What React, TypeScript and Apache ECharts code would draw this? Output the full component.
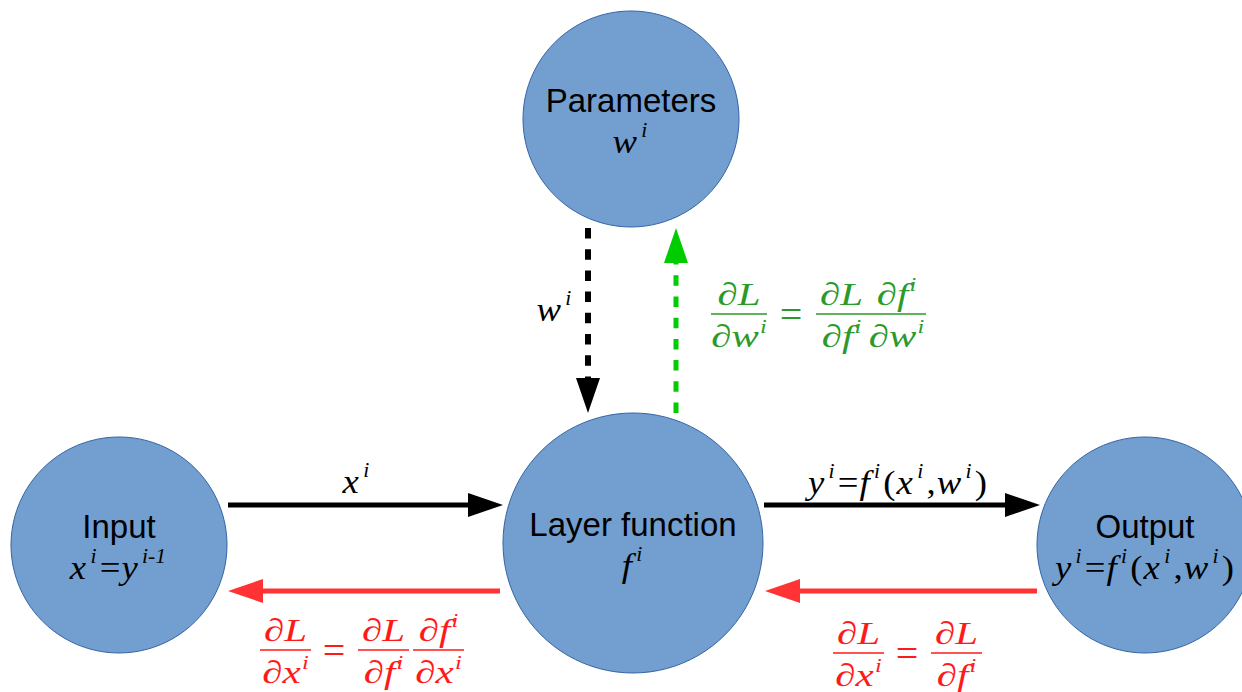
import React, { useEffect, useRef } from "react";
import * as echarts from "echarts";

// ---- nodes ----
const nodeNames = ["Parameters", "Layer function", "Input", "Output"];
const nodeMath = [
  "{m|w}{s|i}",
  "{m|f}{s|i}",
  "{m|x}{s|i}{r|=}{m|y}{s|i-1}",
  "{m|y}{s|i}{r|=}{m|f}{s|i}{r|(}{m|x}{s|i}{r|,}{m|w}{s|i}{r|)}",
];
const nodeCx = [631, 633, 119, 1145];
const nodeCy = [119, 543, 545, 545];
const nodeRadius = [108, 130, 108, 108];

// ---- arrows ----
const arrowFrom = [[228, 505], [500, 591], [764, 505], [1037, 591], [588, 228], [676, 413]];
const arrowTo = [[503, 505], [228, 591], [1040, 505], [765, 591], [588, 413], [676, 228]];
const arrowColor = ["#000000", "#ff3333", "#000000", "#ff3333", "#000000", "#00cc00"];
const arrowDashed = [false, false, false, false, true, true];
const arrowWidth = [5, 5, 5, 5, 6, 5];

// ---- edge labels ----
const edgeLabels = [
  "{m|x}{s|i}",
  "{m|y}{s|i}{r|=}{m|f}{s|i}{r|(}{m|x}{s|i}{r|,}{m|w}{s|i}{r|)}",
  "{m|w}{s|i}",
];
const edgeLabelX = [357, 898, 555];
const edgeLabelY = [481, 482, 309];

// ---- gradient formulas (fractions) ----
const fracNum = ["{m|∂L}", "{m|∂L}", "{m|∂f}{s|i}", "{m|∂L}", "{m|∂L}", "{m|∂f}{s|i}", "{m|∂L}", "{m|∂L}"];
const fracDen = ["{m|∂w}{s|i}", "{m|∂f}{s|i}", "{m|∂w}{s|i}", "{m|∂x}{s|i}", "{m|∂f}{s|i}", "{m|∂x}{s|i}", "{m|∂x}{s|i}", "{m|∂f}{s|i}"];
const fracCx = [739, 841.5, 896.5, 285.5, 383.5, 438.5, 858.5, 956.5];
const fracBarY = [314, 314, 314, 650, 650, 650, 653, 653];
const fracBarW = [56, 51, 59, 51, 51, 51, 51, 51];
const fracColor = ["#2a9a2a", "#2a9a2a", "#2a9a2a", "#ff1a1a", "#ff1a1a", "#ff1a1a", "#ff1a1a", "#ff1a1a"];
const eqX = [791, 334, 907];
const eqY = [314, 650, 653];
const eqColor = ["#2a9a2a", "#ff1a1a", "#ff1a1a"];

const SERIF = '"Liberation Serif", "Times New Roman", serif';
const SANS = '"Liberation Sans", Arial, sans-serif';

function mathRich(size: number, color: string, supPad: number[]) {
  const lh = Math.round(size * 1.2);
  return {
    m: { fontFamily: SERIF, fontStyle: "italic", fontSize: size, lineHeight: lh, fill: color },
    r: { fontFamily: SERIF, fontStyle: "normal", fontSize: size, lineHeight: lh, fill: color, padding: [0, 1, 0, 1] },
    s: {
      fontFamily: SERIF,
      fontStyle: "italic",
      fontSize: Math.round(size * 0.58),
      lineHeight: Math.round(size * 0.72),
      verticalAlign: "top",
      fill: color,
      padding: supPad,
    },
  };
}

export default function App() {
  const ref = useRef<HTMLDivElement>(null);
  useEffect(() => {
    if (!ref.current) return;
    const chart = echarts.init(ref.current, undefined, { renderer: "svg" });

    const nodeData = nodeNames.map((_, i) => [nodeCx[i], nodeCy[i], nodeRadius[i], i]);
    const arrowData = arrowFrom.map((f, i) => [f[0], f[1], arrowTo[i][0], arrowTo[i][1], i]);
    const labelData = edgeLabels.map((_, i) => [edgeLabelX[i], edgeLabelY[i], i]);
    const fracData = fracNum.map((_, i) => [fracCx[i], fracBarY[i], fracBarW[i], i]);
    const eqData = eqX.map((x, i) => [x, eqY[i], i]);

    chart.setOption({
      animation: false,
      backgroundColor: "#ffffff",
      grid: { left: 0, right: 0, top: 0, bottom: 0 },
      xAxis: { type: "value", min: 0, max: 1242, show: false },
      yAxis: { type: "value", min: 0, max: 692, inverse: true, show: false },
      series: [
        {
          type: "custom",
          name: "nodes",
          silent: true,
          data: nodeData,
          encode: { x: 0, y: 1 },
          renderItem: (params: any, api: any) => {
            const i = api.value(3);
            const c = api.coord([api.value(0), api.value(1)]);
            const r = api.size([api.value(2), 0])[0];
            return {
              type: "group",
              children: [
                {
                  type: "circle",
                  shape: { cx: c[0], cy: c[1], r },
                  style: { fill: "#729fcf", stroke: "#3465a4", lineWidth: 1 },
                },
                {
                  type: "text",
                  x: c[0],
                  y: c[1] - 19,
                  style: {
                    text: nodeNames[i],
                    font: `33px ${SANS}`,
                    fill: "#000000",
                    align: "center",
                    verticalAlign: "middle",
                  },
                },
                {
                  type: "text",
                  x: c[0],
                  y: c[1] + 22,
                  scaleX: 1.08,
                  style: {
                    text: nodeMath[i],
                    rich: mathRich(34, "#000000", [0, 2, 0, 4]),
                    align: "center",
                    verticalAlign: "middle",
                  },
                },
              ],
            };
          },
        },
        {
          type: "custom",
          name: "arrows",
          silent: true,
          data: arrowData,
          encode: { x: [0, 2], y: [1, 3] },
          renderItem: (params: any, api: any) => {
            const i = api.value(4);
            const p1 = api.coord([api.value(0), api.value(1)]);
            const p2 = api.coord([api.value(2), api.value(3)]);
            const dx = p2[0] - p1[0];
            const dy = p2[1] - p1[1];
            const len = Math.hypot(dx, dy) || 1;
            const ux = dx / len;
            const uy = dy / len;
            const headL = 35;
            const headW = 12;
            const bx = p2[0] - ux * headL;
            const by = p2[1] - uy * headL;
            const nx = -uy;
            const ny = ux;
            return {
              type: "group",
              children: [
                {
                  type: "line",
                  shape: { x1: p1[0], y1: p1[1], x2: bx + ux, y2: by + uy },
                  style: {
                    stroke: arrowColor[i],
                    lineWidth: arrowWidth[i],
                    lineDash: arrowDashed[i] ? [10.5, 10.7] : null,
                  },
                },
                {
                  type: "polygon",
                  shape: {
                    points: [
                      [p2[0], p2[1]],
                      [bx + nx * headW, by + ny * headW],
                      [bx - nx * headW, by - ny * headW],
                    ],
                  },
                  style: { fill: arrowColor[i] },
                },
              ],
            };
          },
        },
        {
          type: "custom",
          name: "edgeLabels",
          silent: true,
          data: labelData,
          encode: { x: 0, y: 1 },
          renderItem: (params: any, api: any) => {
            const i = api.value(2);
            const c = api.coord([api.value(0), api.value(1)]);
            return {
              type: "text",
              x: c[0],
              y: c[1],
              scaleX: 1.08,
              style: {
                text: edgeLabels[i],
                rich: mathRich(34, "#000000", [0, 2, 0, 4]),
                align: "center",
                verticalAlign: "middle",
              },
            };
          },
        },
        {
          type: "custom",
          name: "fractions",
          silent: true,
          data: fracData,
          encode: { x: 0, y: 1 },
          renderItem: (params: any, api: any) => {
            const i = api.value(3);
            const c = api.coord([api.value(0), api.value(1)]);
            const w = api.size([api.value(2), 0])[0];
            const col = fracColor[i];
            return {
              type: "group",
              children: [
                {
                  type: "line",
                  shape: { x1: c[0] - w / 2, y1: c[1], x2: c[0] + w / 2, y2: c[1] },
                  style: { stroke: col, lineWidth: 1.6 },
                },
                {
                  type: "text",
                  x: c[0],
                  y: c[1] - 20,
                  scaleX: 1.28,
                  style: {
                    text: fracNum[i],
                    rich: mathRich(32, col, [0, 0, 0, 1]),
                    align: "center",
                    verticalAlign: "middle",
                  },
                },
                {
                  type: "text",
                  x: c[0],
                  y: c[1] + 22,
                  scaleX: 1.28,
                  style: {
                    text: fracDen[i],
                    rich: mathRich(32, col, [0, 0, 0, 1]),
                    align: "center",
                    verticalAlign: "middle",
                  },
                },
              ],
            };
          },
        },
        {
          type: "custom",
          name: "equals",
          silent: true,
          data: eqData,
          encode: { x: 0, y: 1 },
          renderItem: (params: any, api: any) => {
            const i = api.value(2);
            const c = api.coord([api.value(0), api.value(1)]);
            return {
              type: "text",
              x: c[0],
              y: c[1],
              style: {
                text: "=",
                font: `40px ${SERIF}`,
                fill: eqColor[i],
                align: "center",
                verticalAlign: "middle",
              },
            };
          },
        },
      ],
    });
    return () => chart.dispose();
  }, []);

  return (
    <div
      ref={ref}
      style={{ position: "absolute", left: 0, top: 0, width: 1242, height: 692, background: "#ffffff" }}
    />
  );
}
